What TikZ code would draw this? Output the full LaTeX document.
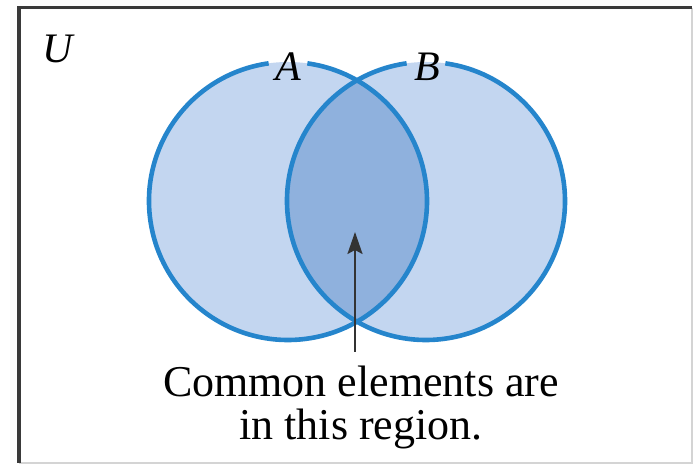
\documentclass[tikz,border=0pt]{standalone}
\usepackage{fontspec}
\setmainfont{Liberation Serif}
\usetikzlibrary{arrows.meta}

\definecolor{setfill}{HTML}{C3D6F0}
\definecolor{lensfill}{HTML}{8FB1DD}
\definecolor{setline}{HTML}{2585CC}
\definecolor{framedark}{HTML}{3A3A3A}
\definecolor{framelight}{HTML}{D4D4D4}

\tikzset{
  setlabel/.style={font=\fontsize{21}{21}\selectfont\itshape, inner sep=0pt},
  caption/.style={font=\fontsize{22}{21.5}\selectfont, align=center, inner sep=0pt},
  pointer/.style={draw=black!80, line width=1.2pt, -{Stealth[length=11pt,width=7.5pt,inset=2pt]}},
}

\begin{document}
\begin{tikzpicture}[x=0.5pt,y=0.5pt]
\useasboundingbox (0,0) rectangle (693,464);

\def\r{139}
\coordinate (ca) at (288,263);
\coordinate (cb) at (426,263);

% frame of U
\draw[framelight, line width=1pt] (19,1) -| (692,456);
\draw[framedark, line width=1.5pt] (19,1) |- (692,456);

% sets and their common part
\fill[setfill] (ca) circle [radius=\r] (cb) circle [radius=\r];
\begin{scope}
  \clip (ca) circle [radius=\r];
  \fill[lensfill] (cb) circle [radius=\r];
\end{scope}
\foreach \c in {ca,cb}{
       \draw[setline, line width=2.3pt] (\c) ++(98:\r) arc [start angle=98, end angle=442, radius=\r];
}

\node[setlabel] (labU) at (58,415) {U};
\node[setlabel] (labA) at (288,397) {A};
\node[setlabel] (labB) at (427,397) {B};

\node[caption] (note) at (361,57) {Common elements are\\in this region.};
\coordinate (tip) at (355,232);
\coordinate (tail) at (355,112);
\draw[pointer] (tail) -- (tip);

\end{tikzpicture}
\end{document}
